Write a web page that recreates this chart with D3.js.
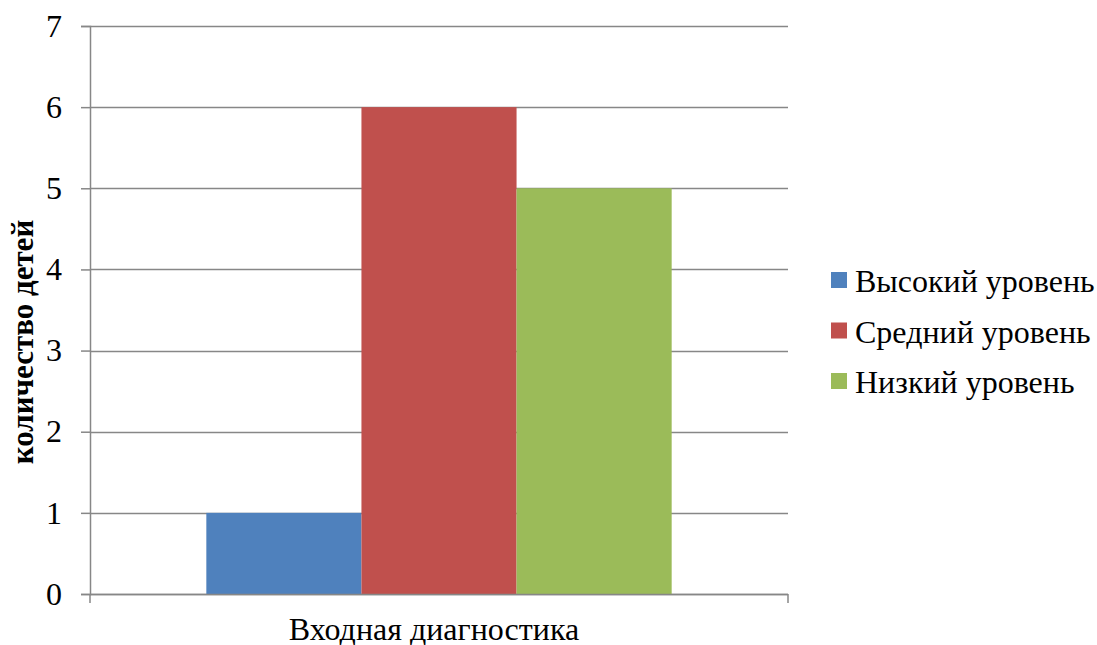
<!DOCTYPE html>
<html>
<head>
<meta charset="utf-8">
<script src="https://cdn.jsdelivr.net/npm/d3@7"></script>
<style>
  body { margin: 0; background: #fff; }
</style>
</head>
<body>
<script>
const categories = ['Входная диагностика'];
const series = ['Высокий уровень', 'Средний уровень', 'Низкий уровень'];
const values = [[1, 6, 5]];
const yTicks = [0, 1, 2, 3, 4, 5, 6, 7];
const colors = ['#4F81BD', '#C0504D', '#9BBB59'];

const serif = 'Liberation Serif, serif';
const width = 1097;
const height = 645;
const margin = { top: 26, right: 309, bottom: 51, left: 90 };
const innerWidth = width - margin.left - margin.right;
const innerHeight = height - margin.top - margin.bottom;

const svg = d3.select('body').append('svg')
  .attr('width', width)
  .attr('height', height)
  .attr('font-family', serif);
const g = svg.append('g').attr('transform', `translate(${margin.left},${margin.top})`);

const x0 = d3.scaleBand().domain(categories).range([0, innerWidth]).paddingInner(0).paddingOuter(0);
const x1 = d3.scaleBand().domain(series).range([0, x0.bandwidth()]).paddingOuter(0.75).paddingInner(0);
const y = d3.scaleLinear().domain([0, 7]).range([innerHeight, 0]);

// gridlines
g.selectAll('line.grid')
  .data(yTicks)
  .enter()
  .append('line')
  .attr('class', 'grid')
  .attr('x1', 0)
  .attr('x2', innerWidth)
  .attr('y1', (d) => Math.round(y(d)) + 0.5)
  .attr('y2', (d) => Math.round(y(d)) + 0.5)
  .attr('stroke', '#878787')
  .attr('stroke-width', 1.5);

// bars
const groups = g.selectAll('g.cat')
  .data(categories)
  .enter()
  .append('g')
  .attr('transform', (d) => `translate(${x0(d)},0)`);

groups.selectAll('rect')
  .data((d, i) => series.map((s, j) => ({ s, v: values[i][j], c: colors[j] })))
  .enter()
  .append('rect')
  .attr('x', (d) => x1(d.s))
  .attr('width', x1.bandwidth())
  .attr('y', (d) => y(d.v))
  .attr('height', (d) => y(0) - y(d.v))
  .attr('fill', (d) => d.c);

// y axis
const yAxis = g.append('g')
  .call(d3.axisLeft(y).tickValues(yTicks).tickSize(9).tickPadding(19).tickFormat(d3.format('d')))
  .attr('font-family', serif)
  .attr('font-size', 32);
yAxis.select('.domain').attr('stroke', '#878787').attr('stroke-width', 1.5);
yAxis.selectAll('.tick line').attr('stroke', '#878787').attr('stroke-width', 1.5);
yAxis.selectAll('.tick text').attr('fill', '#000');

// x axis, ticks at the category edges
const xAxis = g.append('g').attr('transform', `translate(0,${innerHeight})`);
xAxis.append('line')
  .attr('x1', 0).attr('x2', innerWidth)
  .attr('y1', 0.5).attr('y2', 0.5)
  .attr('stroke', '#878787').attr('stroke-width', 1.5);
xAxis.selectAll('line.xt')
  .data([0, innerWidth])
  .enter()
  .append('line')
  .attr('class', 'xt')
  .attr('x1', (d) => d).attr('x2', (d) => d)
  .attr('y1', 0).attr('y2', 9)
  .attr('stroke', '#878787').attr('stroke-width', 1.5);
xAxis.selectAll('text')
  .data(categories)
  .enter()
  .append('text')
  .attr('x', (d) => x0(d) + x0.bandwidth() / 2 - 5)
  .attr('y', 46)
  .attr('text-anchor', 'middle')
  .attr('font-size', 32)
  .text((d) => d);

// y title
svg.append('text')
  .attr('transform', 'translate(33,342) rotate(-90)')
  .attr('text-anchor', 'middle')
  .attr('font-size', 31)
  .attr('font-weight', 'bold')
  .text('количество детей');

// legend
const legend = svg.append('g').attr('transform', 'translate(831,272)');
const items = legend.selectAll('g')
  .data(series)
  .enter()
  .append('g')
  .attr('transform', (d, i) => `translate(0,${i * 50.5})`);
items.append('rect')
  .attr('width', 16)
  .attr('height', 16)
  .attr('fill', (d, i) => colors[i]);
items.append('text')
  .attr('x', 24)
  .attr('y', 20)
  .attr('font-size', 32)
  .text((d) => d);
</script>
</body>
</html>
